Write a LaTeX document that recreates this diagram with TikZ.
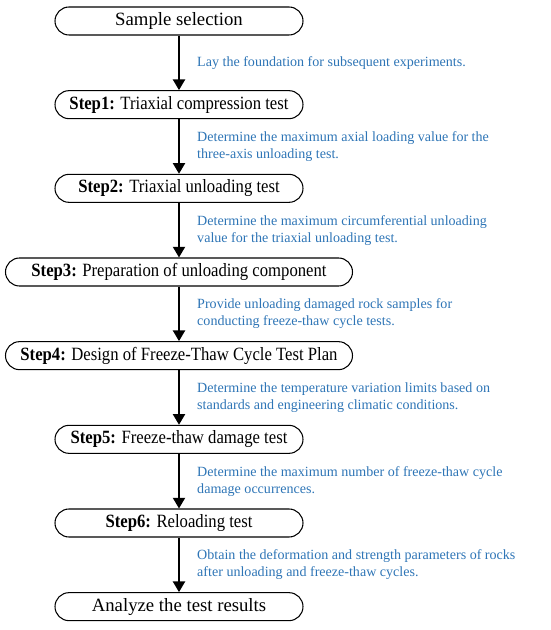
\documentclass[tikz,border=0pt]{standalone}
\usepackage{fontspec}
\setmainfont{Liberation Serif}
\newfontfamily\stepfont[FakeStretch=0.89]{Liberation Serif}
\usetikzlibrary{arrows.meta}
\definecolor{noteblue}{HTML}{2E75B6}
\tikzset{
  stepbox/.style={draw, line width=0.9pt, rounded corners=0.42cm, minimum height=0.84cm,
    minimum width=#1, inner sep=0pt, font=\fontsize{16}{19}\selectfont},
  stepbox/.default=7.44cm,
  note/.style={anchor=west, align=left, inner sep=0pt, text=noteblue,
    font=\fontsize{12}{14.5}\selectfont},
  flow/.style={-{Triangle[length=0.32cm,width=0.36cm]}, line width=1.7pt}
}
\begin{document}
\begin{tikzpicture}
        \def\xc{5.37}
        \def\xn{5.91}
        \def\ytop{18.27}
        \def\dy{2.51}
        \useasboundingbox (0,0) rectangle (16.5,18.9);
        % boxes
        \node [stepbox] (sample) at (\xc,\ytop) {Sample selection};
        \node [stepbox] (step1) at (\xc,{\ytop-\dy}) {\stepfont\textbf{Step1:} Triaxial compression test};
        \node [stepbox] (step2) at (\xc,{\ytop-2*\dy}) {\stepfont\textbf{Step2:} Triaxial unloading test};
        \node [stepbox=10.41cm] (step3) at (\xc,{\ytop-3*\dy}) {\stepfont\textbf{Step3:} Preparation of unloading component};
        \node [stepbox=10.41cm] (step4) at (\xc,{\ytop-4*\dy}) {\stepfont\textbf{Step4:} Design of Freeze-Thaw Cycle Test Plan};
        \node [stepbox] (step5) at (\xc,{\ytop-5*\dy}) {\stepfont\textbf{Step5:} Freeze-thaw damage test};
        \node [stepbox] (step6) at (\xc,{\ytop-6*\dy}) {\stepfont\textbf{Step6:} Reloading test};
        \node [stepbox] (result) at (\xc,{\ytop-7*\dy}) {Analyze the test results};
        % arrows
        \draw [flow] (sample) -- (step1);
        \draw [flow] (step1) -- (step2);
        \draw [flow] (step2) -- (step3);
        \draw [flow] (step3) -- (step4);
        \draw [flow] (step4) -- (step5);
        \draw [flow] (step5) -- (step6);
        \draw [flow] (step6) -- (result);
        % notes beside the arrows
        \node [note] (note1) at (\xn,{\ytop-0.5*\dy}) {Lay the foundation for subsequent experiments.};
        \node [note] (note2) at (\xn,{\ytop-1.5*\dy}) {Determine the maximum axial loading value for the\\three-axis unloading test.};
        \node [note] (note3) at (\xn,{\ytop-2.5*\dy}) {Determine the maximum circumferential unloading\\value for the triaxial unloading test.};
        \node [note] (note4) at (\xn,{\ytop-3.5*\dy}) {Provide unloading damaged rock samples for\\conducting freeze-thaw cycle tests.};
        \node [note] (note5) at (\xn,{\ytop-4.5*\dy}) {Determine the temperature variation limits based on\\standards and engineering climatic conditions.};
        \node [note] (note6) at (\xn,{\ytop-5.5*\dy}) {Determine the maximum number of freeze-thaw cycle\\damage occurrences.};
        \node [note] (note7) at (\xn,{\ytop-6.5*\dy}) {Obtain the deformation and strength parameters of rocks\\after unloading and freeze-thaw cycles.};
    \end{tikzpicture}
\end{document}
